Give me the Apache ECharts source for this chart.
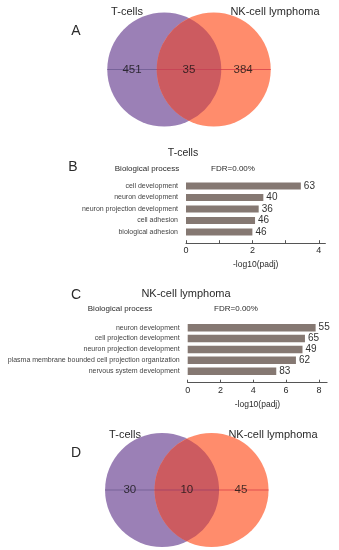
<!DOCTYPE html>
<html><head><meta charset="utf-8">
<script src="https://cdn.jsdelivr.net/npm/echarts@6/dist/echarts.min.js"></script>
<style>html,body{margin:0;padding:0;background:#fff}#c{width:339px;height:550px}</style>
</head><body><div id="c"></div>
<script>
// ---- data ----
var vennSets = ['T-cells', 'NK-cell lymphoma'];
var vennA_counts = [451, 35, 384];
var vennD_counts = [30, 10, 45];
var barB_categories = ['cell development', 'neuron development', 'neuron projection development', 'cell adhesion', 'biological adhesion'];
var barB_values = [3.46, 2.33, 2.19, 2.08, 2.0];
var barB_counts = [63, 40, 36, 46, 46];
var barC_categories = ['neuron development', 'cell projection development', 'neuron projection development', 'plasma membrane bounded cell projection organization', 'nervous system development'];
var barC_values = [7.8, 7.15, 7.0, 6.6, 5.4];
var barC_counts = [55, 65, 49, 62, 83];
var xTicksB = [0, 2, 4];
var xTicksC = [0, 2, 4, 6, 8];

// ---- styling/layout ----
var FONT = '"Liberation Sans", Arial, sans-serif';
var TXT = '#2a2a2a';
var PURPLE = '#9B80B6', ORANGE = '#FF8C6C', LENS = '#CC5B60';
var BAR = '#857872';
var SEP = 0.434; // half distance between circle centres (in radius units)

function vennRender(params, api) {
  var c1 = api.coord([-SEP, 0]), c2 = api.coord([SEP, 0]);
  var r = api.size([1, 0])[0];
  var mx = (c1[0] + c2[0]) / 2, cy = c1[1];
  var half = (c2[0] - c1[0]) / 2;
  var h = Math.sqrt(r * r - half * half);
  var lens = 'M ' + mx + ' ' + (cy - h) + ' A ' + r + ' ' + r + ' 0 0 1 ' + mx + ' ' + (cy + h) +
             ' A ' + r + ' ' + r + ' 0 0 1 ' + mx + ' ' + (cy - h) + ' Z';
  return {
    type: 'group',
    children: [
      { type: 'circle', shape: { cx: c1[0], cy: cy, r: r }, style: { fill: PURPLE } },
      { type: 'circle', shape: { cx: c2[0], cy: cy, r: r }, style: { fill: ORANGE } },
      { type: 'path', shape: { pathData: lens }, style: { fill: LENS } },
      { type: 'line', shape: { x1: c1[0] - r, y1: cy, x2: c1[0] + r, y2: cy }, style: { stroke: '#6E5A92', lineWidth: 1, opacity: 0.8 } },
      { type: 'line', shape: { x1: c2[0] - r, y1: cy, x2: c2[0] + r, y2: cy }, style: { stroke: '#D8404A', lineWidth: 1, opacity: 0.8 } }
    ]
  };
}
function vennLabels(counts) {
  var xs = [(-SEP - 1 + SEP - 1) / 2, 0, (-SEP + 1 + SEP + 1) / 2 - 0.05];
  return counts.map(function (v, i) { return { value: [xs[i], 0], name: String(v) }; });
}

function barAxes(gi, cats, max, interval, ticks, offset) {
  return {
    x: {
      type: 'value', gridIndex: gi, min: 0, max: max, interval: interval,
      offset: offset,
      axisLine: { show: true, lineStyle: { color: '#555', width: 1 } },
      axisTick: { show: true, inside: true, length: 3, lineStyle: { color: '#555' } },
      splitLine: { show: false },
      axisLabel: { fontFamily: FONT, fontSize: 9, color: TXT, margin: 3, showMaxLabel: false,
        formatter: function (v) { return ticks.indexOf(v) >= 0 ? String(v) : ''; } },
      name: '-log10(padj)', nameLocation: 'middle', nameGap: 17,
      nameTextStyle: { fontFamily: FONT, fontSize: 8.5, color: TXT }
    },
    y: {
      type: 'category', gridIndex: gi, data: cats, inverse: true,
      axisLine: { show: false }, axisTick: { show: false },
      axisLabel: { fontFamily: FONT, fontSize: 7, color: '#444', margin: 8 }
    }
  };
}
var axB = barAxes(1, barB_categories, 4.2, 1, xTicksB, 5.5);
var axC = barAxes(2, barC_categories, 8.5, 2, xTicksC, 6);

var vennAxis = function (gi, isX) {
  return { type: 'value', gridIndex: gi, min: isX ? -1.5 : -1, max: isX ? 1.5 : 1, show: false };
};

function txt(x, y, s, size, align) {
  return { type: 'text', x: x, y: y, style: { text: s, fontFamily: FONT, fontSize: size, fill: TXT, align: align || 'center', verticalAlign: 'middle' } };
}

var labelStyle = { show: true, position: 'inside', formatter: '{b}', fontFamily: FONT, fontSize: 11.5, color: '#111' };

var option = {
  animation: false,
  backgroundColor: '#fff',
  grid: [
    { left: 103.5, top: 12.5, width: 171, height: 114 },
    { left: 186, top: 180.2, width: 139.4, height: 57.5 },
    { left: 187.7, top: 322.2, width: 139.4, height: 54.5 },
    { left: 101.3, top: 433, width: 171, height: 114 }
  ],
  xAxis: [vennAxis(0, true), axB.x, axC.x, vennAxis(3, true)],
  yAxis: [vennAxis(0, false), axB.y, axC.y, vennAxis(3, false)],
  series: [
    { type: 'custom', xAxisIndex: 0, yAxisIndex: 0, data: [[0, 0]], renderItem: vennRender, silent: true, z: 2 },
    { type: 'scatter', xAxisIndex: 0, yAxisIndex: 0, symbolSize: 1, itemStyle: { color: 'rgba(0,0,0,0)' }, data: vennLabels(vennA_counts), label: labelStyle, z: 5 },
    { type: 'bar', xAxisIndex: 1, yAxisIndex: 1, data: barB_values,
      barWidth: 7, itemStyle: { color: BAR },
      label: { show: true, position: 'right', distance: 3, formatter: function (p) { return barB_counts[p.dataIndex]; }, fontFamily: FONT, fontSize: 10, color: '#333' } },
    { type: 'bar', xAxisIndex: 2, yAxisIndex: 2, data: barC_values,
      barWidth: 7.5, itemStyle: { color: BAR },
      label: { show: true, position: 'right', distance: 3, formatter: function (p) { return barC_counts[p.dataIndex]; }, fontFamily: FONT, fontSize: 10, color: '#333' } },
    { type: 'custom', xAxisIndex: 3, yAxisIndex: 3, data: [[0, 0]], renderItem: vennRender, silent: true, z: 2 },
    { type: 'scatter', xAxisIndex: 3, yAxisIndex: 3, symbolSize: 1, itemStyle: { color: 'rgba(0,0,0,0)' }, data: vennLabels(vennD_counts), label: labelStyle, z: 5 }
  ],
  graphic: [
    txt(127, 12, vennSets[0], 11), txt(275, 12, vennSets[1], 11), txt(76, 31, 'A', 14),
    txt(183, 153, 'T-cells', 10.5), txt(73, 167, 'B', 14),
    txt(147, 169, 'Biological process', 8), txt(233, 169, 'FDR=0.00%', 8),
    txt(186, 294, 'NK-cell lymphoma', 11), txt(76, 295, 'C', 14),
    txt(120, 309, 'Biological process', 8), txt(236, 309, 'FDR=0.00%', 8),
    txt(125, 435, vennSets[0], 11), txt(273, 435, vennSets[1], 11), txt(76, 453, 'D', 14)
  ]
};
var chart = echarts.init(document.getElementById('c'), null, { renderer: 'canvas' });
chart.setOption(option);
</script></body></html>
